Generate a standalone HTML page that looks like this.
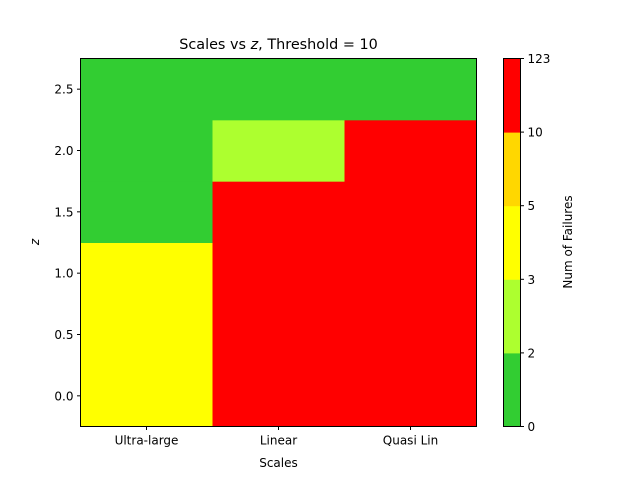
<!DOCTYPE html>
<html><head><meta charset="utf-8"><style>
body{margin:0;background:#fff;}
svg text{font-family:"DejaVu Sans","Liberation Sans",sans-serif;fill:#000;}
</style></head><body>
<svg id="chart" width="640" height="480" xmlns="http://www.w3.org/2000/svg">
<rect width="640" height="480" fill="#fff"/>
<text x="278.5" y="49" font-size="14.4" text-anchor="middle">Scales vs <tspan font-style="italic">z</tspan>, Threshold = 10</text>
<g id="cells"></g>
<rect x="80.5" y="58.5" width="396" height="368" fill="none" stroke="#000" stroke-width="1"/>
<g id="xticks"></g><g id="yticks"></g>
<text x="278.5" y="467" font-size="12" text-anchor="middle">Scales</text>
<text transform="translate(39,242) rotate(-90)" font-size="12" font-style="italic" text-anchor="middle">z</text>
<g id="cbar"></g>
<text transform="translate(572,242) rotate(-90)" font-size="12" text-anchor="middle">Num of Failures</text>
</svg>
<script>
const categories=["Ultra-large","Linear","Quasi Lin"];
const zLevels=[0,0.5,1.0,1.5,2.0,2.5];
const zTickLabels=["0.0","0.5","1.0","1.5","2.0","2.5"];
const ultraLarge=[4,4,4,1,1,1];
const linear=[50,50,50,50,2,1];
const quasiLin=[50,50,50,50,50,1];
const bounds=[0,2,3,5,10,123];
const binColors=["#32cd32","#adff2f","#ffff00","#ffd700","#ff0000"];

const NS="http://www.w3.org/2000/svg";
const X0=80.5,X1=476.5,Y0=426.5,Y1=58.5;
const colW=(X1-X0)/categories.length;
const zStep=zLevels[1]-zLevels[0];
const zMin=zLevels[0]-zStep/2,zMax=zLevels[zLevels.length-1]+zStep/2;
function xPos(i){return X0+colW*i;}
function yPos(z){return Y0-(z-zMin)/(zMax-zMin)*(Y0-Y1);}
function colorOf(v){for(let k=0;k<bounds.length-1;k++){if(v<bounds[k+1])return binColors[k];}return binColors[binColors.length-1];}
function mk(tag,attrs,parent){const e=document.createElementNS(NS,tag);for(const k in attrs)e.setAttribute(k,attrs[k]);parent.appendChild(e);return e;}

const series=[ultraLarge,linear,quasiLin];
const cells=document.getElementById('cells');
series.forEach((s,i)=>{s.forEach((v,j)=>{
  const yt=yPos(zLevels[j]+zStep/2),yb=yPos(zLevels[j]-zStep/2);
  const r=mk('rect',{x:xPos(i),y:yt,width:colW+0.5,height:yb-yt+0.5,fill:colorOf(v)},cells);
  
  
});});

const xt=document.getElementById('xticks');
categories.forEach((c,i)=>{
  const cx=xPos(i)+colW/2;
  const l=mk('line',{x1:cx,x2:cx,y1:Y0,y2:Y0+3.5,stroke:'#000'},xt);
  
  
  const t=mk('text',{x:cx,y:Y0+18,'font-size':12,'text-anchor':'middle'},xt);
  t.textContent=c;
  
  
});
const yt=document.getElementById('yticks');
zLevels.forEach((z,j)=>{
  const cy=yPos(z);
  const l=mk('line',{x1:X0-3.5,x2:X0,y1:cy,y2:cy,stroke:'#000'},yt);
  
  
  const t=mk('text',{x:X0-7,y:cy+4.5,'font-size':12,'text-anchor':'end'},yt);
  t.textContent=zTickLabels[j];
  
  
});

const cb=document.getElementById('cbar');
const CX=503.5,CW=17,nb=binColors.length,segH=(Y0-Y1)/nb;
binColors.forEach((c,k)=>{
  const r=mk('rect',{x:CX,y:Y0-segH*(k+1),width:CW,height:segH+0.5,fill:c},cb);
  
  
});
const fr=mk('rect',{x:CX,y:Y1,width:CW,height:Y0-Y1,fill:'none',stroke:'#000'},cb);


bounds.forEach((b,k)=>{
  const cy=Y0-segH*k;
  const l=mk('line',{x1:CX+CW,x2:CX+CW+3.5,y1:cy,y2:cy,stroke:'#000'},cb);
  
  
  const t=mk('text',{x:CX+CW+7,y:cy+4.5,'font-size':12},cb);
  t.textContent=String(b);
  
  
});
</script>
</body></html>
